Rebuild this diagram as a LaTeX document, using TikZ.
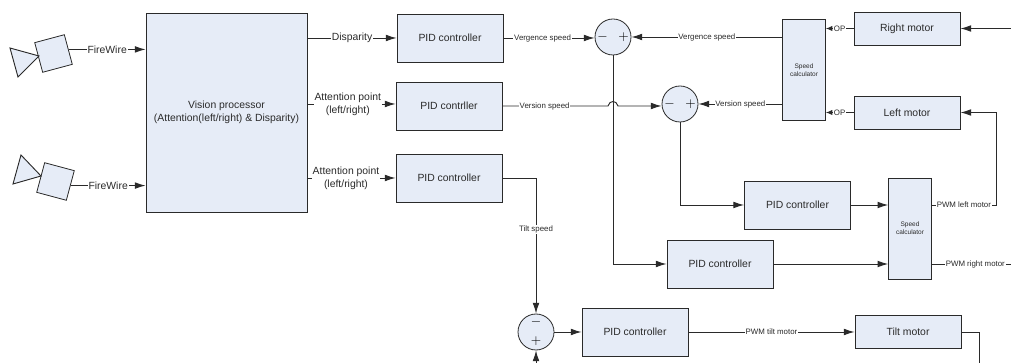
\documentclass[tikz,border=0pt]{standalone}
\usepackage{fontspec}
\setmainfont{Liberation Sans}
\usetikzlibrary{arrows.meta}
\definecolor{boxfill}{HTML}{E6ECF7}
\definecolor{inkline}{HTML}{2A2A2A}
\tikzset{
	blockbox/.style = {draw=inkline, line width=0.6pt, fill=boxfill, inner sep=0pt, text=inkline, align=center, font=\fontsize{7.8}{9.5}\selectfont},
	pidbox/.style = {blockbox, minimum width=79.5pt, minimum height=36pt},
	motorbox/.style = {blockbox, minimum width=79.5pt, minimum height=24.75pt},
	calcbox/.style = {blockbox, minimum width=32pt, minimum height=75.75pt, font=\fontsize{4.9}{6.2}\selectfont},
	camsquare/.style = {draw=inkline, line width=0.6pt, fill=boxfill, minimum size=23pt, inner sep=0pt},
	sumnode/.style = {circle, draw=inkline, line width=0.6pt, fill=boxfill, minimum size=27pt, inner sep=0pt, align=center, font=\fontsize{10}{14}\selectfont},
	flow/.style = {draw=inkline, line width=0.7pt, -{Latex[length=8pt,width=5pt]}},
	smallflow/.style = {draw=inkline, line width=0.7pt, -{Latex[length=5pt,width=4pt]}},
	plainflow/.style = {draw=inkline, line width=0.7pt},
	biglabel/.style = {fill=white, inner sep=0.6pt, text=inkline, align=center, font=\fontsize{7.8}{9.5}\selectfont},
	smalllabel/.style = {fill=white, inner sep=0.6pt, text=inkline, font=\fontsize{5.9}{7}\selectfont}
}
\begin{document}
\begin{tikzpicture}[x=0.75pt, y=-0.75pt]
	\useasboundingbox (0,0) rectangle (1011,363);

	\node (vision) [blockbox, minimum width=120.75pt, minimum height=149.25pt] at (226.5,112.5) {Vision processor\\(Attention(left/right) \& Disparity)};
	\node (pid1) [pidbox] at (450,38) {PID controller};
	\node (pid2) [pidbox] at (449,106) {PID contrller};
	\node (pid3) [pidbox] at (449,178) {PID controller};
	\node (pid4) [pidbox] at (797.5,205) {PID controller};
	\node (pid5) [pidbox] at (720,264) {PID controller};
	\node (pid6) [pidbox] at (635,332) {PID controller};
	\node (speed1) [calcbox] at (804,70) {Speed\\calculator};
	\node (speed2) [calcbox] at (910,228.5) {Speed\\calculator};
	\node (rightmotor) [motorbox] at (907,28.5) {Right motor};
	\node (leftmotor) [motorbox] at (907,112.5) {Left motor};
	\node (tiltmotor) [motorbox] at (908,332) {Tilt motor};
	\node (sum1) [sumnode] at (613,37) {$-$\hspace{8pt}$+$};
	\node (sum2) [sumnode] at (680,104) {$-$\hspace{8pt}$+$};
	\node (sum3) [sumnode] at (536,332) {$-$\\$+$};

	\node (cam1) [camsquare, rotate=15] at (53.5,53.5) {};
	\node (cam2) [camsquare, rotate=-15] at (55.5,181.5) {};
	\draw [plainflow, fill=boxfill] (10,48) -- (39,56) -- (18,77) -- cycle;
	\draw [plainflow, fill=boxfill] (21,155) -- (41,176) -- (13,184) -- cycle;

	\coordinate (rightin) at (1011,28.5);
	\coordinate (rightout) at (1011,264);
	\coordinate (leftbend) at (996,205);
	\coordinate (tiltout) at (979,363);
	\coordinate (sum3in) at (536,363);
	\coordinate (hopa) at (608,106);
	\coordinate (hopb) at (618,106);
	\coordinate (att1) at (307,110);
	\coordinate (att2) at (307,190);

	\draw [flow] (cam1.east) -- node [biglabel, pos=0.5] {FireWire} (cam1.east -| vision.west);
	\draw [flow] (cam2.east) -- node [biglabel, pos=0.5] {FireWire} (cam2.east -| vision.west);
	\draw [flow] (pid1.west -| vision.east) -- node [biglabel, pos=0.5] {Disparity} (pid1.west);
	\draw [flow] (att1) |- node [biglabel, pos=0.73] {Attention point\\(left/right)} ([yshift=1.5pt]pid2.west);
	\draw [flow] (att2) |- node [biglabel, pos=0.72] {Attention point\\(left/right)} (pid3.west);

	\draw [flow] (pid1.east) -- node [smalllabel, pos=0.43] {Vergence speed} (pid1.east -| sum1.west);
	\draw [flow] (pid2.east) -- node [smalllabel, pos=0.4] {Version speed} (hopa) .. controls (609.5,100) and (616.5,100) .. (hopb) -- (hopb -| sum2.west);
	\draw [flow] (pid3.east) -| node [smalllabel, pos=0.69] {Tilt speed} (sum3.north);
	\draw [flow] (sum3in) -- (sum3.south);
	\draw [flow] (sum3.east) -- (pid6.west);
	\draw [flow] (pid6.east) -- node [smalllabel, pos=0.5] {PWM tilt motor} (tiltmotor.west);
	\draw [plainflow] (tiltmotor.east) -| (tiltout);

	\draw [flow] (sum1.east -| speed1.west) -- node [smalllabel, pos=0.5] {Vergence speed} (sum1.east);
	\draw [flow] (sum2.east -| speed1.west) -- node [smalllabel, pos=0.5] {Version speed} (sum2.east);
	\draw [smallflow] (rightmotor.west) -- node [smalllabel, pos=0.5] {OP} (rightmotor.west -| speed1.east);
	\draw [smallflow] (leftmotor.west) -- node [smalllabel, pos=0.5] {OP} (leftmotor.west -| speed1.east);
	\draw [flow] (rightin) -- (rightmotor.east);

	\draw [flow] (sum1.south) |- (pid5.west);
	\draw [flow] (sum2.south) |- (pid4.west);
	\draw [flow] (pid4.east) -- (pid4.east -| speed2.west);
	\draw [flow] (pid5.east) -- (pid5.east -| speed2.west);
	\draw [flow] (pid4.east -| speed2.east) -- node [smalllabel, pos=0.5] {PWM left motor} (leftbend) |- (leftmotor.east);
	\draw [plainflow] (pid5.east -| speed2.east) -- node [smalllabel, pos=0.55] {PWM right motor} (rightout);
\end{tikzpicture}
\end{document}
